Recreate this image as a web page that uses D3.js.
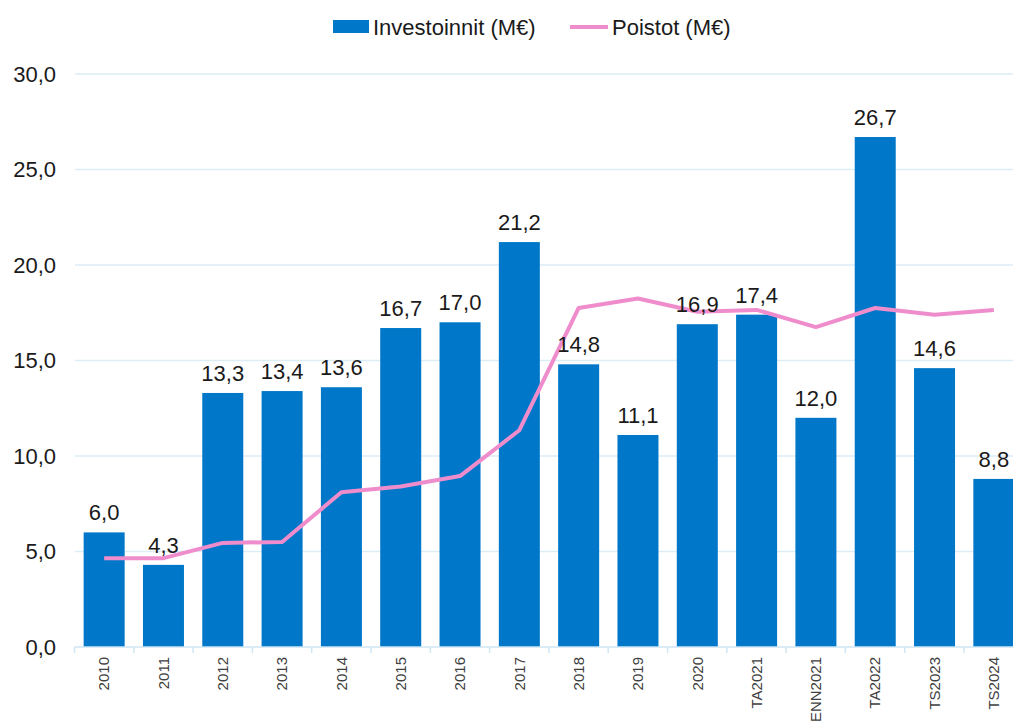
<!DOCTYPE html>
<html lang="fi">
<head>
<meta charset="UTF-8">
<script src="https://d3js.org/d3.v7.min.js"></script>
<style>
  body { margin: 0; background: #fff; font-family: "Liberation Sans", Arial, sans-serif; }
  svg { display: block; }
</style>
</head>
<body>
<svg width="1013" height="722"></svg>
<script>
const categories = ["2010", "2011", "2012", "2013", "2014", "2015", "2016", "2017", "2018", "2019", "2020", "TA2021", "ENN2021", "TA2022", "TS2023", "TS2024"];
const investoinnit = [6.0, 4.3, 13.3, 13.4, 13.6, 16.7, 17.0, 21.2, 14.8, 11.1, 16.9, 17.4, 12.0, 26.7, 14.6, 8.8];
const poistot = [4.65, 4.65, 5.45, 5.5, 8.1, 8.4, 8.95, 11.35, 17.75, 18.25, 17.55, 17.65, 16.75, 17.75, 17.4, 17.65];
const yTicks = [0, 5, 10, 15, 20, 25, 30];

const svg = d3.select("svg");
const fmt = v => v.toFixed(1).replace(".", ",");

const x = d3.scaleBand()
    .domain(categories)
    .range([74.5, 1023.5])
    .paddingInner(0.3)
    .paddingOuter(0.15);

const xc = d3.scalePoint()
    .domain(categories)
    .range([74.5 + 59.3 / 2, 1023.5 - 59.3 / 2]);

const y = d3.scaleLinear()
    .domain([0, 30])
    .range([647, 74]);

// gridlines
svg.append("g")
    .selectAll("line")
    .data(yTicks.filter(d => d > 0))
    .enter().append("line")
    .attr("x1", 75).attr("x2", 1013)
    .attr("y1", d => y(d)).attr("y2", d => y(d))
    .attr("stroke", "#dcedf6")
    .attr("stroke-width", 1.5);

// y labels
svg.append("g")
    .selectAll("text")
    .data(yTicks)
    .enter().append("text")
    .attr("x", 56)
    .attr("y", d => y(d))
    .attr("dy", "0.36em")
    .attr("text-anchor", "end")
    .style("font-size", "22px")
    .style("fill", "#1a1a1a")
    .text(fmt);

// bars
const bw = 41;
svg.append("g")
    .selectAll("rect")
    .data(investoinnit)
    .enter().append("rect")
    .attr("x", (d, i) => xc(categories[i]) - bw / 2)
    .attr("y", d => y(d))
    .attr("width", bw)
    .attr("height", d => y(0) - y(d))
    .attr("fill", "#0077c8");

// x axis
const xAxis = svg.append("g")
    .attr("transform", `translate(0,${y(0)})`);
xAxis.append("line")
    .attr("x1", 74.5).attr("x2", 1013)
    .attr("stroke", "#cfe6f3").attr("stroke-width", 1.5);
xAxis.selectAll(".tk")
    .data(d3.range(categories.length + 1))
    .enter().append("line")
    .attr("x1", i => 74.5 + i * 59.3).attr("x2", i => 74.5 + i * 59.3)
    .attr("y1", 0).attr("y2", 6)
    .attr("stroke", "#cfe6f3").attr("stroke-width", 1.5);
xAxis.selectAll("text")
    .data(categories)
    .enter().append("text")
    .attr("transform", d => `translate(${xc(d)},10) rotate(-90)`)
    .attr("text-anchor", "end")
    .attr("dy", "0.35em")
    .style("font-size", "15px")
    .style("fill", "#404040")
    .text(d => d);

// line
const line = d3.line()
    .x((d, i) => xc(categories[i]))
    .y(d => y(d));
svg.append("path")
    .datum(poistot)
    .attr("d", line)
    .attr("fill", "none")
    .attr("stroke", "#ef8dcc")
    .attr("stroke-width", 4)
    .attr("stroke-linejoin", "round");

// value labels
svg.append("g")
    .selectAll("text")
    .data(investoinnit)
    .enter().append("text")
    .attr("x", (d, i) => xc(categories[i]))
    .attr("y", d => y(d) - 12)
    .attr("text-anchor", "middle")
    .style("font-size", "22px")
    .style("fill", "#1a1a1a")
    .text(fmt);

// legend
const lg = svg.append("g");
lg.append("rect").attr("x", 333).attr("y", 20).attr("width", 36).attr("height", 13).attr("fill", "#0077c8");
lg.append("text").attr("x", 373).attr("y", 27).attr("dy", "0.36em")
    .style("font-size", "22px").style("fill", "#1a1a1a").text("Investoinnit (M€)");
lg.append("line").attr("x1", 570).attr("x2", 608).attr("y1", 27).attr("y2", 27)
    .attr("stroke", "#ef8dcc").attr("stroke-width", 4);
lg.append("text").attr("x", 612).attr("y", 27).attr("dy", "0.36em")
    .style("font-size", "22px").style("fill", "#1a1a1a").text("Poistot (M€)");
</script>
</body>
</html>
